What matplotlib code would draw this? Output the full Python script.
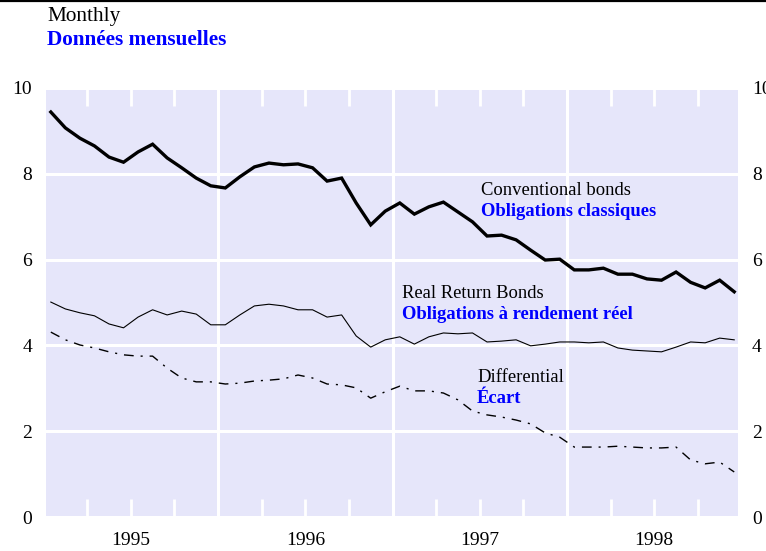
import numpy as np
import matplotlib
matplotlib.use("Agg")
import matplotlib.pyplot as plt
from matplotlib.lines import Line2D
from matplotlib.ticker import FixedLocator, FixedFormatter

plt.rcParams['font.family'] = ['Liberation Serif', 'DejaVu Serif']

years = [1995, 1996, 1997, 1998]
year_labels = ['1995', '1996', '1997', '1998']

conventional = [9.44, 9.07, 8.83, 8.65, 8.39, 8.27, 8.51, 8.69, 8.37, 8.14, 7.90, 7.72,
                7.67, 7.93, 8.16, 8.25, 8.21, 8.23, 8.14, 7.83, 7.90, 7.32, 6.81, 7.13,
                7.32, 7.06, 7.23, 7.34, 7.11, 6.88, 6.55, 6.57, 6.46, 6.22, 5.99, 6.01,
                5.76, 5.76, 5.80, 5.66, 5.66, 5.55, 5.52, 5.71, 5.47, 5.34, 5.52, 5.25]
real_return = [5.01, 4.85, 4.76, 4.69, 4.50, 4.41, 4.66, 4.83, 4.71, 4.80, 4.73, 4.48,
               4.48, 4.71, 4.92, 4.96, 4.92, 4.83, 4.83, 4.66, 4.71, 4.22, 3.96, 4.13,
               4.20, 4.03, 4.20, 4.29, 4.27, 4.29, 4.08, 4.10, 4.13, 3.99, 4.03, 4.08,
               4.08, 4.06, 4.08, 3.94, 3.89, 3.87, 3.85, 3.96, 4.08, 4.06, 4.17, 4.13]
differential = [4.31, 4.13, 4.01, 3.94, 3.85, 3.78, 3.75, 3.75, 3.47, 3.24, 3.15, 3.15,
                3.10, 3.12, 3.17, 3.19, 3.22, 3.31, 3.24, 3.10, 3.08, 3.01, 2.77, 2.92,
                3.05, 2.94, 2.94, 2.89, 2.73, 2.47, 2.38, 2.33, 2.26, 2.17, 1.96, 1.86,
                1.63, 1.63, 1.63, 1.65, 1.63, 1.61, 1.61, 1.63, 1.33, 1.24, 1.28, 1.05]

months = np.array([years[0] + (i + 0.5) / 12.0 for i in range(len(conventional))])

lavender = '#e6e6fa'
blue = '#0000ff'

fig = plt.figure(figsize=(7.66, 5.51), dpi=100)
ax = fig.add_axes([46/766, 1-517/551, (738-46)/766, (517-88)/551])
ax.set_facecolor(lavender)
for s in ax.spines.values():
    s.set_visible(False)

ax.set_xlim(1995.014, 1998.98)
ax.set_ylim(0, 10)

# gridlines: years (vertical) and y levels
ax.xaxis.set_major_locator(FixedLocator([1996, 1997, 1998]))
ax.xaxis.set_major_formatter(FixedFormatter(['', '', '']))
ax.yaxis.set_major_locator(FixedLocator([0, 2, 4, 6, 8, 10]))
ax.grid(True, which='major', color='white', linewidth=2.2)
ax.set_axisbelow(True)
ax.tick_params(axis='x', which='major', length=0)
ax.tick_params(axis='y', which='major', length=0, labelsize=14, pad=10,
               left=False, right=False, labelleft=True, labelright=True)

# quarterly inward ticks with year labels at mid-year
qpos = []
qlab = []
for y, lab in zip(years, year_labels):
    for q in (0.25, 0.5, 0.75):
        qpos.append(y + q)
        qlab.append(lab if q == 0.5 else '')
ax.xaxis.set_minor_locator(FixedLocator(qpos))
ax.xaxis.set_minor_formatter(FixedFormatter(qlab))
ax.tick_params(axis='x', which='minor', direction='in', length=13, width=2,
               color='white', top=True, bottom=True, labelsize=14, pad=11)

ax.plot(months, conventional, color='black', lw=2.4, solid_joinstyle='miter', zorder=3)
ax.plot(months, real_return, color='black', lw=0.8, zorder=3)
ax.plot(months, differential, color='black', lw=1.0, dashes=(7, 5, 1.5, 5), zorder=3)

fs = 13.4
ax.text(1997.507, 7.62, 'Conventional bonds', fontsize=fs, color='black', va='center', ha='left')
ax.text(1997.507, 7.11, 'Obligations classiques', fontsize=fs, color=blue, fontweight='bold', va='center', ha='left')
ax.text(1997.054, 5.22, 'Real Return Bonds', fontsize=fs, color='black', va='center', ha='left')
ax.text(1997.054, 4.73, 'Obligations à rendement réel', fontsize=fs, color=blue, fontweight='bold', va='center', ha='left')
ax.text(1997.484, 3.26, 'Differential', fontsize=fs, color='black', va='center', ha='left')
ax.text(1997.484, 2.77, 'Écart', fontsize=fs, color=blue, fontweight='bold', va='center', ha='left')

fig.text(47/766, 1-17/551, 'Monthly', fontsize=15.3, color='black', va='center', ha='left')
fig.text(47/766, 1-40/551, 'Données mensuelles', fontsize=15.3, color=blue, fontweight='bold', va='center', ha='left')

fig.add_artist(Line2D([0, 1], [1-1/551, 1-1/551], color='black', lw=1.6, transform=fig.transFigure))

fig.savefig('out.png', dpi=100)
